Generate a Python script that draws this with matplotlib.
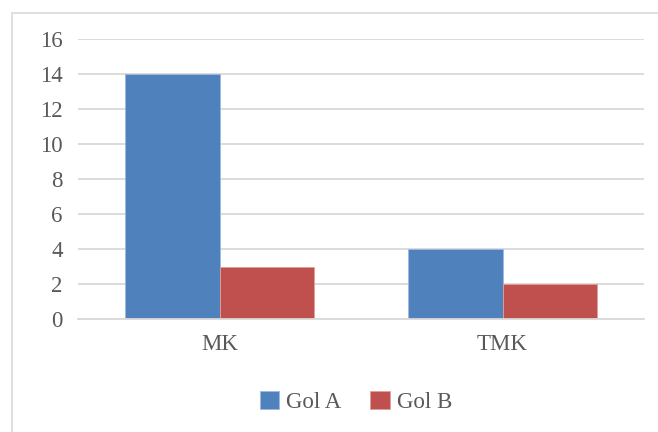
import numpy as np
import matplotlib.pyplot as plt
from matplotlib.patches import Rectangle

# données
categories = ['MK', 'TMK']
gol_a = [14, 4]
gol_b = [3, 2]
series_names = ['Gol A', 'Gol B']
yticks = [0, 2, 4, 6, 8, 10, 12, 14, 16]

plt.rcParams['font.family'] = ['Liberation Serif', 'DejaVu Serif']

fig = plt.figure(figsize=(6.58, 4.32), dpi=100)
ax = fig.add_axes([78 / 658, 113 / 432, (644 - 78) / 658, (319 - 39) / 432])

# bordure du graphique
fig.patches.append(Rectangle((12 / 658, -0.01), 1.0, (432 - 13) / 432 + 0.01,
                             transform=fig.transFigure, fill=False,
                             edgecolor='#D9D9D9', linewidth=1.2))

ind = np.arange(len(categories))
w = 1 / 3
p1 = ax.bar(ind - w / 2, gol_a, w, color='#4F81BD', edgecolor='#9DB9DE', linewidth=0.6)
p2 = ax.bar(ind + w / 2, gol_b, w, color='#C0504D', edgecolor='#E0A09E', linewidth=0.6)

ax.set_xlim(-0.5, len(categories) - 0.5)
ax.set_ylim(0, 16)
ax.set_yticks(yticks)
ax.set_xticks(ind)
ax.set_xticklabels(categories)

ax.yaxis.grid(True, color='#D9D9D9', linewidth=1.3)
ax.set_axisbelow(True)
for s in ['top', 'right', 'left']:
    ax.spines[s].set_visible(False)
ax.spines['bottom'].set_color('#D9D9D9')
ax.spines['bottom'].set_linewidth(1.3)

ax.tick_params(axis='y', length=0, pad=11, labelsize=16.5, labelcolor='#595959')
ax.tick_params(axis='x', length=0, pad=11, labelsize=16.5, labelcolor='#595959')

leg = fig.legend((p1[0], p2[0]), series_names, loc='center', bbox_to_anchor=(356 / 658, 1 - 402 / 432),
                 ncol=2, frameon=False, fontsize=16.5, handlelength=0.85, handleheight=0.85,
                 handletextpad=0.3, columnspacing=1.25, labelcolor='#595959')

fig.savefig('out.png', dpi=100)
